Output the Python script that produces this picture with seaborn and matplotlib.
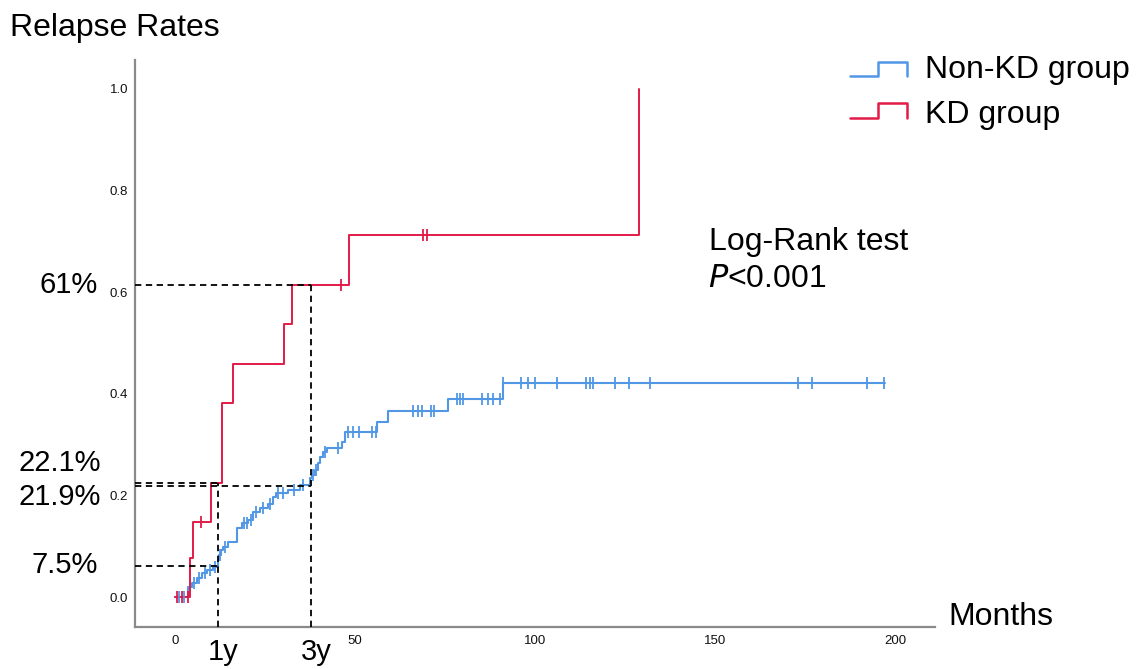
import numpy as np
import pandas as pd
import matplotlib.pyplot as plt
from matplotlib.lines import Line2D
import seaborn as sns

# Non-KD group: event times (months) and cumulative relapse rate after each step
blue_t = [0, 3.7, 4.8, 6.2, 7.6, 9.0, 10.6, 11.9, 12.3, 12.8, 13.4, 14.8, 17.1, 18.5,
          20.4, 21.8, 23.6, 25.9, 27.3, 28.2, 31.5, 34.7, 37.5, 38.0, 38.9, 39.8,
          40.3, 41.2, 42.1, 46.3, 47.2, 56.2, 59.3, 75.9, 91.0, 197.2]
blue_v = [0, .020, .027, .037, .047, .053, .060, .073, .083, .093, .099, .109, .135, .145,
          .152, .168, .175, .184, .197, .204, .211, .220, .234, .240, .250, .263,
          .276, .286, .293, .306, .325, .345, .366, .389, .422, .422]
blue_cens = [1.2, 2.5, 5.3, 6.8, 8.3, 9.6, 11.0, 12.5, 13.8, 19.2, 20.0, 21.2, 22.6,
             24.5, 26.5, 28.6, 30.0, 33.0, 35.5, 38.4, 39.2, 41.7, 45.4, 48.1, 49.5,
             51.2, 54.6, 55.8, 66.2, 67.4, 68.5, 71.1, 72.0, 78.2, 79.2, 80.1, 85.2,
             87.0, 88.4, 90.3, 91.0, 96.2, 98.1, 100.0, 106.2, 114.2, 115.3, 116.2,
             122.2, 126.2, 131.9, 173.1, 177.0, 192.1, 197.0]

# KD group
red_t = [0, 4.2, 5.1, 10.0, 13.1, 16.2, 30.3, 32.4, 48.2, 129.0]
red_v = [0, .077, .148, .224, .382, .459, .537, .614, .712, 1.0]
red_cens = [0.5, 2.0, 3.5, 7.1, 46.1, 69.0, 69.9]

# annotations: (label, rate) and landmark months
ann_rates = {'61%': 0.614, '22.1%': 0.224, '21.9%': 0.219, '7.5%': 0.061}
landmarks = {'1y': 12.0, '3y': 37.8}

BLUE = '#5197E6'
RED = '#E31A47'

sns.set_style('white')
plt.rcParams['font.family'] = ['Liberation Sans', 'DejaVu Sans']
plt.rcParams['text.color'] = 'black'

fig = plt.figure(figsize=(11.48, 6.69), dpi=100)
ax = fig.add_axes([135 / 1148, 1 - 627 / 669, 800 / 1148, 567 / 669])

xlim = (-11.1, 211.1)
ylim = (-0.059, 1.057)


def cens_df(times, t, v):
    idx = np.searchsorted(t, times, side='right') - 1
    return pd.DataFrame({'t': times, 'v': np.asarray(v)[idx]})


blue = pd.DataFrame({'t': blue_t, 'v': blue_v})
red = pd.DataFrame({'t': red_t, 'v': red_v})

sns.lineplot(data=blue, x='t', y='v', drawstyle='steps-post', estimator=None,
             sort=False, color=BLUE, lw=1.5, ax=ax)
sns.lineplot(data=red, x='t', y='v', drawstyle='steps-post', estimator=None,
             sort=False, color=RED, lw=1.4, ax=ax)
sns.scatterplot(data=cens_df(blue_cens, blue_t, blue_v), x='t', y='v', marker='|',
                s=64, linewidth=1.3, color=BLUE, ax=ax, zorder=3)
sns.scatterplot(data=cens_df(red_cens, red_t, red_v), x='t', y='v', marker='|',
                s=64, linewidth=1.3, color=RED, ax=ax, zorder=3)

# dashed guide lines
dash = dict(color='black', lw=1.3, ls=(0, (3.5, 2.5)), zorder=4)
y1 = landmarks['1y']
y3 = landmarks['3y']
ax.plot([xlim[0], y3], [ann_rates['61%']] * 2, **dash)
ax.plot([y3, y3], [ylim[0], ann_rates['61%']], **dash)
ax.plot([xlim[0], y1], [ann_rates['22.1%']] * 2, **dash)
ax.plot([xlim[0], y3], [ann_rates['21.9%']] * 2, **dash)
ax.plot([y1, y1], [ylim[0], ann_rates['22.1%']], **dash)
ax.plot([xlim[0], y1], [ann_rates['7.5%']] * 2, **dash)

ax.set_xlim(*xlim)
ax.set_ylim(*ylim)
ax.set_xticks([0, 50, 100, 150, 200])
ax.set_yticks([0.0, 0.2, 0.4, 0.6, 0.8, 1.0])
ax.set_yticklabels(['0.0', '0.2', '0.4', '0.6', '0.8', '1.0'])
ax.tick_params(length=0, labelsize=9.5, colors='#111111')
ax.tick_params(axis='y', pad=5)
ax.tick_params(axis='x', pad=6)
ax.set_xlabel('')
ax.set_ylabel('')
for side in ['top', 'right']:
    ax.spines[side].set_visible(False)
for side in ['left', 'bottom']:
    ax.spines[side].set_color('#8a8a8a')
    ax.spines[side].set_linewidth(1.6)

# labels outside axes
fs = 23
fsp = 21
ytr = ax.get_yaxis_transform()
ax.text(-0.046, ann_rates['61%'], '61%', transform=ytr, ha='right', va='center', fontsize=fsp)
ax.text(-0.043, ann_rates['22.1%'] + 0.04, '22.1%', transform=ytr, ha='right', va='center', fontsize=fsp)
ax.text(-0.043, ann_rates['21.9%'] - 0.022, '21.9%', transform=ytr, ha='right', va='center', fontsize=fsp)
ax.text(-0.046, ann_rates['7.5%'] + 0.003, '7.5%', transform=ytr, ha='right', va='center', fontsize=fsp)
for lab, m in landmarks.items():
    ax.text(m + 1.5, -0.069, lab, transform=ax.get_xaxis_transform(),
            ha='center', va='bottom', fontsize=fsp)

fig.text(10 / 1148, 1 - 28 / 669, 'Relapse Rates', ha='left', va='center', fontsize=fs)
fig.text(948 / 1148, 1 - 617 / 669, 'Months', ha='left', va='center', fontsize=fs)
fig.text(709 / 1148, 1 - 242 / 669, 'Log-Rank test', ha='left', va='center', fontsize=fs)
fig.text(708 / 1148, 1 - 279 / 669, '$\\it{P}$<0.001', ha='left', va='center', fontsize=fs)

# legend with step-shaped keys
for name, col, ylow, yhigh, ytxt in [('Non-KD group', BLUE, 76, 62, 70),
                                      ('KD group', RED, 118, 103, 115)]:
    xs = np.array([850, 878, 878, 907, 907]) / 1148
    ys = 1 - np.array([ylow, ylow, yhigh, yhigh, ylow]) / 669
    fig.add_artist(Line2D(xs, ys, color=col, lw=1.8, transform=fig.transFigure))
    fig.text(925 / 1148, 1 - ytxt / 669, name, ha='left', va='center', fontsize=fs)

fig.savefig('out.png', dpi=100)
